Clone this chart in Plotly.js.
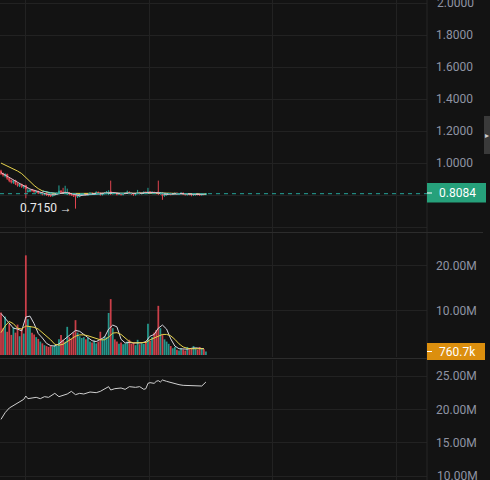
<!DOCTYPE html>
<html><head><meta charset="utf-8">
<script src="https://cdn.plot.ly/plotly-3.0.1.min.js"></script>
<style>html,body{margin:0;padding:0;background:#131313;}#c{width:490px;height:480px;}</style>
</head><body><div id="c"></div>
<script>
// ---- data (candle index 0..99) ----
const openP = [0.950,0.935,0.920,0.930,0.905,0.892,0.878,0.892,0.872,0.858,
0.868,0.850,0.860,0.822,0.823,0.834,0.828,0.818,0.824,0.810,
0.815,0.803,0.812,0.802,0.800,0.795,0.800,0.804,0.810,0.826,
0.818,0.810,0.806,0.814,0.808,0.803,0.806,0.788,0.792,0.800,
0.803,0.810,0.800,0.808,0.813,0.804,0.810,0.818,0.812,0.802,
0.810,0.811,0.808,0.822,0.808,0.815,0.812,0.804,0.810,0.803,
0.810,0.811,0.819,0.812,0.809,0.802,0.810,0.817,0.808,0.811,
0.818,0.810,0.821,0.814,0.818,0.813,0.820,0.807,0.815,0.795,
0.802,0.805,0.811,0.803,0.809,0.813,0.805,0.809,0.813,0.806,
0.802,0.809,0.805,0.799,0.801,0.809,0.804,0.800,0.807,0.802];
const highP = [0.958,0.940,0.935,0.932,0.910,0.896,0.895,0.894,0.875,0.872,
0.870,0.862,0.864,0.845,0.836,0.838,0.830,0.826,0.826,0.818,
0.818,0.812,0.814,0.805,0.802,0.804,0.808,0.815,0.860,0.830,
0.845,0.858,0.840,0.818,0.810,0.806,0.808,0.796,0.804,0.806,
0.812,0.812,0.813,0.816,0.815,0.813,0.822,0.820,0.814,0.813,
0.816,0.824,0.830,0.890,0.818,0.817,0.814,0.813,0.812,0.813,
0.815,0.828,0.821,0.814,0.812,0.812,0.832,0.819,0.814,0.822,
0.822,0.845,0.824,0.822,0.820,0.816,0.890,0.818,0.817,0.806,
0.808,0.813,0.813,0.812,0.814,0.815,0.812,0.815,0.815,0.808,
0.810,0.811,0.807,0.804,0.810,0.811,0.806,0.808,0.809,0.812];
const lowP = [0.925,0.915,0.910,0.895,0.880,0.872,0.870,0.862,0.852,0.850,
0.845,0.840,0.780,0.815,0.818,0.820,0.815,0.812,0.806,0.806,
0.798,0.798,0.795,0.790,0.788,0.790,0.796,0.800,0.806,0.812,
0.806,0.805,0.800,0.798,0.795,0.788,0.715,0.782,0.786,0.795,
0.798,0.796,0.797,0.803,0.800,0.800,0.805,0.806,0.796,0.798,
0.805,0.805,0.800,0.800,0.804,0.806,0.798,0.800,0.796,0.798,
0.805,0.806,0.806,0.800,0.795,0.797,0.805,0.804,0.803,0.806,
0.805,0.806,0.809,0.808,0.806,0.805,0.800,0.802,0.770,0.790,
0.796,0.800,0.798,0.800,0.804,0.800,0.800,0.803,0.800,0.796,
0.797,0.798,0.792,0.794,0.797,0.798,0.795,0.796,0.798,0.800];
const closeP = [0.935,0.925,0.930,0.905,0.890,0.880,0.890,0.870,0.860,0.868,
0.852,0.858,0.838,0.825,0.832,0.828,0.820,0.822,0.812,0.815,
0.805,0.810,0.802,0.798,0.796,0.801,0.805,0.812,0.825,0.818,
0.812,0.820,0.816,0.806,0.802,0.795,0.790,0.792,0.800,0.803,
0.808,0.802,0.810,0.812,0.805,0.810,0.818,0.812,0.803,0.810,
0.812,0.820,0.815,0.810,0.814,0.812,0.805,0.810,0.804,0.810,
0.812,0.818,0.812,0.808,0.803,0.810,0.816,0.810,0.812,0.818,
0.812,0.820,0.815,0.818,0.812,0.810,0.808,0.815,0.795,0.802,
0.806,0.810,0.804,0.810,0.812,0.806,0.810,0.813,0.805,0.803,
0.808,0.804,0.800,0.802,0.808,0.803,0.801,0.806,0.803,0.8084];
const volumeM = [9.5,6.0,8.6,5.2,7.0,4.5,6.2,5.0,6.8,4.2,
6.0,4.8,22.3,8.0,6.5,5.0,4.6,4.0,3.6,3.0,
2.6,2.2,2.0,1.8,2.1,1.9,2.3,2.0,3.5,4.5,
3.4,3.0,6.3,4.0,3.6,5.0,7.8,5.0,4.2,3.8,
4.0,3.5,3.8,3.0,2.8,3.2,2.6,3.0,5.2,3.5,
4.2,4.0,9.4,12.5,6.0,3.5,3.0,2.5,2.8,2.4,
2.6,3.0,3.4,2.5,2.8,2.2,3.4,2.4,2.6,2.5,
3.0,7.0,3.2,4.0,5.0,5.6,11.0,6.0,4.6,3.5,
3.0,2.5,2.0,1.5,1.8,1.2,1.0,1.5,1.2,1.0,
1.8,1.3,1.5,2.0,1.5,1.2,1.8,1.5,1.3,0.7607];

const maSlowX = [0,2,4,6,8,10,12,14,16,18,20,22,24,26,28,30,35,40,45,50,55,60,65,70,75,80,85,90,95,99];
const maSlowY = [1.000,0.988,0.976,0.964,0.950,0.934,0.912,0.885,0.860,0.840,0.826,0.817,0.812,0.810,0.810,0.810,0.808,0.807,0.808,0.809,0.810,0.810,0.811,0.812,0.813,0.812,0.810,0.808,0.806,0.806];
const maFastX = [0,2,4,6,8,10,12,14,16,18,20,22,24,26,28,30,32,34,36,38,40,42,44,46,48,50,52,54,56,58,60,62,64,66,68,70,72,74,76,78,80,82,84,86,88,90,92,94,96,98];
const maFastY = [0.940,0.925,0.905,0.890,0.875,0.865,0.852,0.838,0.830,0.822,0.813,0.806,0.802,0.802,0.808,0.814,0.815,0.808,0.798,0.795,0.800,0.805,0.808,0.810,0.810,0.810,0.814,0.816,0.812,0.808,0.809,0.812,0.810,0.810,0.812,0.815,0.817,0.816,0.813,0.806,0.803,0.806,0.809,0.809,0.809,0.806,0.804,0.804,0.804,0.805];
const maMidX = [20,24,28,32,36,40,44,48,52,56,60,64,68,72,76,80,84,88,92,96,99];
const maMidY = [0.825,0.815,0.810,0.812,0.806,0.800,0.803,0.808,0.810,0.812,0.810,0.809,0.810,0.813,0.815,0.810,0.806,0.808,0.807,0.805,0.805];

const volMaX = [0,2,4,6,8,10,12,14,16,18,20,22,24,26,28,30,32,34,36,38,40,42,44,46,48,50,52,54,56,58,60,62,64,66,68,70,72,74,76,78,80,82,84,86,88,90,92,94,96,98];
const volMaFastM = [9.3,8.2,7.0,6.0,5.8,5.4,8.5,8.7,7.0,4.8,3.8,2.6,2.1,2.0,2.5,3.3,4.1,4.8,5.5,5.3,4.6,3.8,3.2,3.0,3.5,4.0,5.8,6.7,6.3,3.5,2.7,2.8,2.7,2.7,2.7,3.0,4.2,4.6,6.0,6.7,5.8,3.6,2.0,1.4,1.3,1.3,1.5,1.6,1.5,1.4];
const volMaSlowM = [5.0,6.5,7.5,7.0,6.0,5.8,6.5,6.3,6.2,5.8,5.0,4.4,3.4,2.4,2.2,2.4,3.0,3.5,4.2,4.5,4.5,4.3,4.0,3.6,3.4,3.4,4.0,4.9,5.0,4.6,3.8,3.0,2.7,2.7,2.7,2.8,3.4,3.8,4.3,4.6,4.6,4.3,3.5,2.5,1.8,1.5,1.4,1.4,1.5,1.4];

const obvX = [0,2,4,7,9,11,12,13,15,17,19,21,23,24,26,28,30,32,34,35,36,38,40,43,46,48,50,52,53,55,58,60,62,65,67,69,70,71,72,74,75,76,77,78,80,82,84,86,88,90,92,94,96,97,99];
const obvM = [18.5,19.5,20.2,20.8,21.2,21.5,22.0,21.6,21.7,21.8,21.6,21.9,21.8,22.0,22.4,21.9,22.1,22.3,22.7,22.5,22.2,22.4,22.3,22.6,22.5,22.7,23.0,23.4,22.9,23.1,23.2,23.0,23.4,23.3,23.4,23.0,23.1,23.9,24.0,23.9,24.2,24.3,24.1,24.4,24.2,24.0,23.8,23.7,23.6,23.6,23.5,23.5,23.6,23.5,24.1];

const priceTicks = [0.6,0.8,1.0,1.2,1.4,1.6,1.8,2.0];
const priceTickText = ['','','1.0000','1.2000','1.4000','1.6000','1.8000',''];
const priceTopLabel = '2.0000';
const volTicks = [10,20];
const volTickText = ['10.00M','20.00M'];
const obvTicks = [10,15,20,25];
const obvTickText = ['','15.00M','20.00M','25.00M'];
const obvBottomLabel = '10.00M';
const lastPriceText = '0.8084';
const lastVolText = '760.7k';
const lowLabel = '0.7150 →';

// ---- chart ----
const UP = '#26a69a', DOWN = '#e0444f';
const idx = closeP.map((_, i) => i);
const barColors = closeP.map((c, i) => c >= openP[i] ? UP : DOWN);

const traces = [
  {type:'candlestick', x:idx, open:openP, high:highP, low:lowP, close:closeP,
   xaxis:'x', yaxis:'y',
   increasing:{line:{color:UP,width:1}, fillcolor:UP},
   decreasing:{line:{color:DOWN,width:1}, fillcolor:DOWN}, whiskerwidth:0},
  {type:'scatter', mode:'lines', x:maSlowX, y:maSlowY, line:{color:'#e8d44d',width:1}, xaxis:'x', yaxis:'y'},
  {type:'scatter', mode:'lines', x:maMidX, y:maMidY, line:{color:'#6fd3d8',width:1}, xaxis:'x', yaxis:'y'},
  {type:'scatter', mode:'lines', x:maFastX, y:maFastY, line:{color:'#e6b8c4',width:1}, xaxis:'x', yaxis:'y'},
  {type:'bar', x:idx, y:volumeM, marker:{color:barColors, line:{width:0}}, opacity:0.9, xaxis:'x', yaxis:'y2'},
  {type:'scatter', mode:'lines', x:volMaX, y:volMaFastM, line:{color:'#d8d8e0',width:1}, xaxis:'x', yaxis:'y2'},
  {type:'scatter', mode:'lines', x:volMaX, y:volMaSlowM, line:{color:'#e8d44d',width:1}, xaxis:'x', yaxis:'y2'},
  {type:'scatter', mode:'lines', x:obvX, y:obvM, line:{color:'#d0d0d0',width:1}, xaxis:'x', yaxis:'y3'}
];

const W = 427;
const px2py = p => 1 - p/480;
const tickFont = {family:'Roboto, sans-serif', size:12, color:'#8f93a3'};
const GRID = '#222222';
const yCommon = {side:'right', gridcolor:GRID, gridwidth:1, zeroline:false, showline:false, ticks:'',
  tickfont:tickFont, ticklabelstandoff:8, fixedrange:true, tickmode:'array'};

const layout = {
  width:490, height:480, paper_bgcolor:'#131313', plot_bgcolor:'#131313',
  margin:{l:0, r:63, t:0, b:0}, showlegend:false, bargap:0.15, hovermode:false,
  xaxis:{range:[-0.48,205.8], tick0:11.6, dtick:59.9, showgrid:true, gridcolor:GRID,
    showticklabels:false, zeroline:false, ticks:'', rangeslider:{visible:false}, fixedrange:true},
  yaxis:Object.assign({}, yCommon, {domain:[px2py(232),1], range:[0.569,2.019], tickvals:priceTicks, ticktext:priceTickText}),
  yaxis2:Object.assign({}, yCommon, {domain:[px2py(357),px2py(233)], range:[-0.45,27.3], tickvals:volTicks, ticktext:volTickText}),
  yaxis3:Object.assign({}, yCommon, {domain:[0,px2py(360)], range:[9.4,27.4], tickvals:obvTicks, ticktext:obvTickText}),
  shapes:[
    {type:'line', xref:'paper', yref:'paper', x0:1, x1:1, y0:0, y1:1, line:{color:'#262626',width:1}},
    {type:'line', xref:'paper', yref:'paper', x0:0, x1:483/W, y0:px2py(232.5), y1:px2py(232.5), line:{color:'#2c2c2c',width:1}},
    {type:'line', xref:'paper', yref:'paper', x0:0, x1:483/W, y0:px2py(358.5), y1:px2py(358.5), line:{color:'#2c2c2c',width:1}},
    {type:'line', xref:'paper', yref:'y', x0:0, x1:1, y0:0.8084, y1:0.8084, line:{color:UP,width:1,dash:'4px,4px'}},
    {type:'rect', xref:'paper', yref:'paper', x0:1, x1:486/W, y0:px2py(202.5), y1:px2py(183), fillcolor:'#26a17b', line:{width:0}},
    {type:'line', xref:'paper', yref:'paper', x0:1, x1:432/W, y0:px2py(193), y1:px2py(193), line:{color:'#ffffff',width:1}},
    {type:'rect', xref:'paper', yref:'paper', x0:1, x1:485/W, y0:px2py(360), y1:px2py(343), fillcolor:'#dc8f0e', line:{width:0}},
    {type:'line', xref:'paper', yref:'paper', x0:1, x1:432/W, y0:px2py(351.5), y1:px2py(351.5), line:{color:'#ffffff',width:1}},
    {type:'rect', xref:'paper', yref:'paper', x0:484/W, x1:490/W, y0:px2py(154), y1:px2py(116), fillcolor:'#3a3a3a', line:{width:0}}
  ],
  annotations:[
    {xref:'paper', yref:'y', x:435/W, y:2.0, xanchor:'left', yanchor:'middle', showarrow:false,
     text:priceTopLabel, font:tickFont},
    {xref:'paper', yref:'y3', x:435/W, y:10, xanchor:'left', yanchor:'middle', showarrow:false,
     text:obvBottomLabel, font:tickFont},
    {xref:'paper', yref:'paper', x:437/W, y:px2py(193), xanchor:'left', yanchor:'middle', showarrow:false,
     text:lastPriceText, font:{family:'Roboto, sans-serif', size:12, color:'#ffffff'}},
    {xref:'paper', yref:'paper', x:437/W, y:px2py(351.5), xanchor:'left', yanchor:'middle', showarrow:false,
     text:lastVolText, font:{family:'Roboto, sans-serif', size:12, color:'#ffffff'}},
    {xref:'x', yref:'y', x:36, y:0.715, xanchor:'right', yanchor:'middle', xshift:-2, yshift:1, showarrow:false,
     text:lowLabel, font:{family:'Roboto, sans-serif', size:12, color:'#eaeaea'}},
    {xref:'paper', yref:'paper', x:487/W, y:px2py(135), xanchor:'center', yanchor:'middle', showarrow:false,
     text:'▸', font:{family:'DejaVu Sans', size:8, color:'#cfcfcf'}}
  ]
};

Plotly.newPlot('c', traces, layout, {staticPlot:true, displayModeBar:false});
</script>
</body></html>
